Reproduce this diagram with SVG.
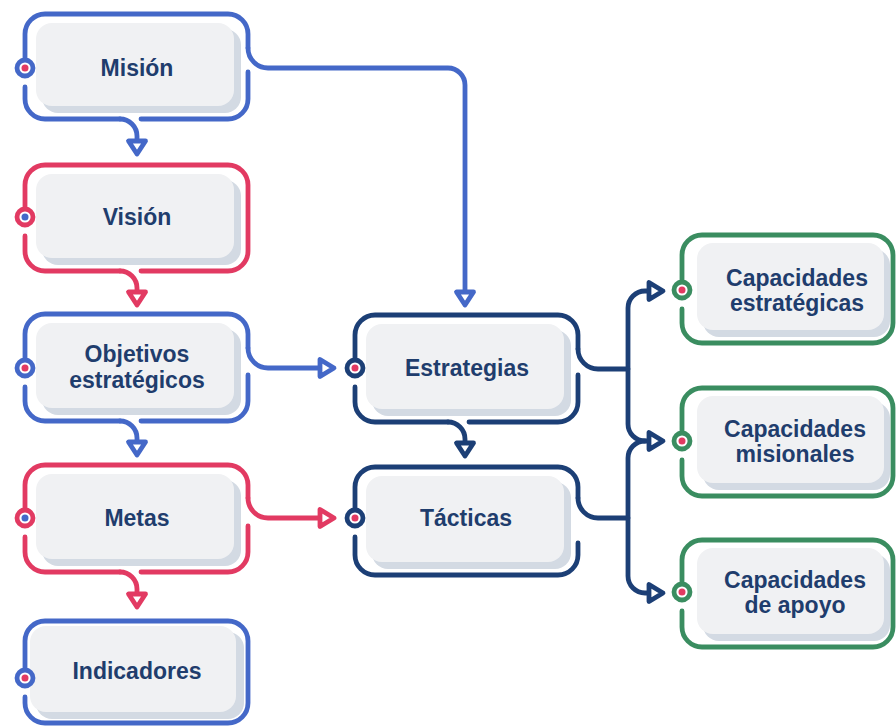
<svg xmlns="http://www.w3.org/2000/svg" width="896" height="727" viewBox="0 0 896 727">
<style>
.o{fill:none;stroke-width:4.8;stroke-linecap:round;stroke-linejoin:round}
.b{stroke:#4468c8}.r{stroke:#e23a62}.n{stroke:#1c3f76}.g{stroke:#3a8d60}
.tri{fill:#fff;stroke-width:4.8;stroke-linejoin:round}
.box{fill:#f0f1f3}.sh{fill:#d3dae3}
.port{fill:#fff;stroke-width:4.8}
.dr{fill:#e23a62}.db{fill:#4468c8}
.t{font-family:"Liberation Sans",Arial,sans-serif;font-weight:bold;font-size:23px;fill:#1f3d6d;text-anchor:middle}
</style>
<rect width="896" height="727" fill="#fff"/>
<g id="connectors">
  <path class="o b" d="M248,48 A20,20 0 0 0 268,68 H448 A17,17 0 0 1 465,85 V291"/>
  <polygon class="tri b" points="456.5,292 473.5,292 465,305"/>
  <path class="o b" d="M120,119 A17,17 0 0 1 137,136 V140"/>
  <polygon class="tri b" points="128.5,141 145.5,141 137,154"/>
  <path class="o r" d="M120,271 A17,17 0 0 1 137,288 V291"/>
  <polygon class="tri r" points="128.5,292 145.5,292 137,305"/>
  <path class="o b" d="M120,421 A17,17 0 0 1 137,438 V441"/>
  <polygon class="tri b" points="128.5,442 145.5,442 137,455"/>
  <path class="o r" d="M120,572 A17,17 0 0 1 137,589 V593"/>
  <polygon class="tri r" points="128.5,594 145.5,594 137,607"/>
  <path class="o b" d="M248,348 A20,20 0 0 0 268,368 H319"/>
  <polygon class="tri b" points="320,359.5 320,376.5 334,368"/>
  <path class="o r" d="M248,498 A20,20 0 0 0 268,518 H319"/>
  <polygon class="tri r" points="320,509.5 320,526.5 334,518"/>
  <path class="o n" d="M448,422 A17,17 0 0 1 465,439 V442"/>
  <polygon class="tri n" points="456.5,443 473.5,443 465,456"/>
  <path class="o n" d="M578,349 A20,20 0 0 0 598,369 H628 V308 A17,17 0 0 1 645,291 H648"/>
  <path class="o n" d="M628,369 V424 A17,17 0 0 0 645,441 H648"/>
  <path class="o n" d="M578,498 A20,20 0 0 0 598,518 H628 V458 A17,17 0 0 1 645,441"/>
  <path class="o n" d="M628,518 V576 A17,17 0 0 0 645,593 H648"/>
  <polygon class="tri n" points="649,282.5 649,299.5 663,291"/>
  <polygon class="tri n" points="649,432.5 649,449.5 663,441"/>
  <polygon class="tri n" points="649,584.5 649,601.5 663,593"/>
</g>
<g id="mision">
  <rect class="sh" x="42" y="29" width="199" height="84" rx="16"/>
  <rect class="box" x="36" y="23" width="198" height="83" rx="16"/>
  <path class="o b" d="M25,58 V34 A20,20 0 0 1 45,14 H228 A20,20 0 0 1 248,34 V48"/>
  <path class="o b" d="M25,87 V99 A20,20 0 0 0 45,119 H120"/>
  <path class="o b" d="M141,119 H228 A20,20 0 0 0 248,99 V72"/>
  <circle class="port b" cx="25" cy="68" r="8"/><circle class="dr" cx="25" cy="68" r="3.5"/>
  <text class="t" x="137" y="76">Misión</text>
</g>
<g id="vision">
  <rect class="sh" x="42" y="180" width="199" height="85" rx="16"/>
  <rect class="box" x="36" y="174" width="198" height="84" rx="16"/>
  <path class="o r" d="M25,207 V185 A20,20 0 0 1 45,165 H228 A20,20 0 0 1 248,185 V251 A20,20 0 0 1 228,271 H141"/>
  <path class="o r" d="M25,236 V251 A20,20 0 0 0 45,271 H120"/>
  <circle class="port r" cx="25" cy="217" r="8"/><circle class="db" cx="25" cy="217" r="3.5"/>
  <text class="t" x="137" y="225">Visión</text>
</g>
<g id="objetivos">
  <rect class="sh" x="42" y="329" width="199" height="86" rx="16"/>
  <rect class="box" x="36" y="323" width="198" height="85" rx="16"/>
  <path class="o b" d="M25,358 V334 A20,20 0 0 1 45,314 H228 A20,20 0 0 1 248,334 V348"/>
  <path class="o b" d="M25,387 V401 A20,20 0 0 0 45,421 H120"/>
  <path class="o b" d="M141,421 H228 A20,20 0 0 0 248,401 V375"/>
  <circle class="port b" cx="25" cy="368" r="8"/><circle class="dr" cx="25" cy="368" r="3.5"/>
  <text class="t" x="137" y="362">Objetivos</text>
  <text class="t" x="137" y="388">estratégicos</text>
</g>
<g id="metas">
  <rect class="sh" x="42" y="480" width="199" height="86" rx="16"/>
  <rect class="box" x="36" y="474" width="198" height="85" rx="16"/>
  <path class="o r" d="M25,508 V485 A20,20 0 0 1 45,465 H228 A20,20 0 0 1 248,485 V498"/>
  <path class="o r" d="M25,537 V552 A20,20 0 0 0 45,572 H120"/>
  <path class="o r" d="M141,572 H228 A20,20 0 0 0 248,552 V526"/>
  <circle class="port r" cx="25" cy="518" r="8"/><circle class="db" cx="25" cy="518" r="3.5"/>
  <text class="t" x="137" y="526">Metas</text>
</g>
<g id="indicadores">
  <rect class="sh" x="36" y="632" width="208" height="87" rx="16"/>
  <rect class="box" x="30" y="626" width="206" height="86" rx="16"/>
  <path class="o b" d="M25,668 V641 A20,20 0 0 1 45,621 H228 A20,20 0 0 1 248,641 V703 A20,20 0 0 1 228,723 H45 A20,20 0 0 1 25,703 V697"/>
  <circle class="port b" cx="25" cy="678" r="8"/><circle class="dr" cx="25" cy="678" r="3.5"/>
  <text class="t" x="137" y="679">Indicadores</text>
</g>
<g id="estrategias">
  <rect class="sh" x="372" y="330" width="199" height="86" rx="16"/>
  <rect class="box" x="366" y="324" width="198" height="85" rx="16"/>
  <path class="o n" d="M355,358 V335 A20,20 0 0 1 375,315 H558 A20,20 0 0 1 578,335 V349"/>
  <path class="o n" d="M355,387 V402 A20,20 0 0 0 375,422 H448"/>
  <path class="o n" d="M469,422 H558 A20,20 0 0 0 578,402 V375"/>
  <circle class="port n" cx="355" cy="368" r="8"/><circle class="dr" cx="355" cy="368" r="3.5"/>
  <text class="t" x="467" y="376">Estrategias</text>
</g>
<g id="tacticas">
  <rect class="sh" x="372" y="482" width="199" height="87" rx="16"/>
  <rect class="box" x="366" y="476" width="198" height="86" rx="16"/>
  <path class="o n" d="M355,508 V487 A20,20 0 0 1 375,467 H558 A20,20 0 0 1 578,487 V498"/>
  <path class="o n" d="M355,537 V555 A20,20 0 0 0 375,575 H558 A20,20 0 0 0 578,555 V543"/>
  <circle class="port n" cx="355" cy="518" r="8"/><circle class="dr" cx="355" cy="518" r="3.5"/>
  <text class="t" x="466" y="526">Tácticas</text>
</g>
<g id="cap-estrategicas">
  <rect class="sh" x="703" y="249" width="187" height="88" rx="16"/>
  <rect class="box" x="697" y="243" width="187" height="87" rx="16"/>
  <path class="o g" d="M682,280 V255 A20,20 0 0 1 702,235 H873 A20,20 0 0 1 893,255 V323 A20,20 0 0 1 873,343 H702 A20,20 0 0 1 682,323 V309"/>
  <circle class="port g" cx="682" cy="290" r="8"/><circle class="dr" cx="682" cy="290" r="3.5"/>
  <text class="t" x="797" y="286">Capacidades</text>
  <text class="t" x="797" y="311">estratégicas</text>
</g>
<g id="cap-misionales">
  <rect class="sh" x="703" y="402" width="187" height="88" rx="16"/>
  <rect class="box" x="697" y="396" width="187" height="87" rx="16"/>
  <path class="o g" d="M682,431 V408 A20,20 0 0 1 702,388 H873 A20,20 0 0 1 893,408 V476 A20,20 0 0 1 873,496 H702 A20,20 0 0 1 682,476 V460"/>
  <circle class="port g" cx="682" cy="441" r="8"/><circle class="dr" cx="682" cy="441" r="3.5"/>
  <text class="t" x="795" y="437">Capacidades</text>
  <text class="t" x="795" y="462">misionales</text>
</g>
<g id="cap-apoyo">
  <rect class="sh" x="703" y="554" width="187" height="87" rx="16"/>
  <rect class="box" x="697" y="548" width="187" height="86" rx="16"/>
  <path class="o g" d="M682,582 V560 A20,20 0 0 1 702,540 H873 A20,20 0 0 1 893,560 V627 A20,20 0 0 1 873,647 H702 A20,20 0 0 1 682,627 V611"/>
  <circle class="port g" cx="682" cy="592" r="8"/><circle class="dr" cx="682" cy="592" r="3.5"/>
  <text class="t" x="795" y="588">Capacidades</text>
  <text class="t" x="795" y="613">de apoyo</text>
</g>
</svg>
